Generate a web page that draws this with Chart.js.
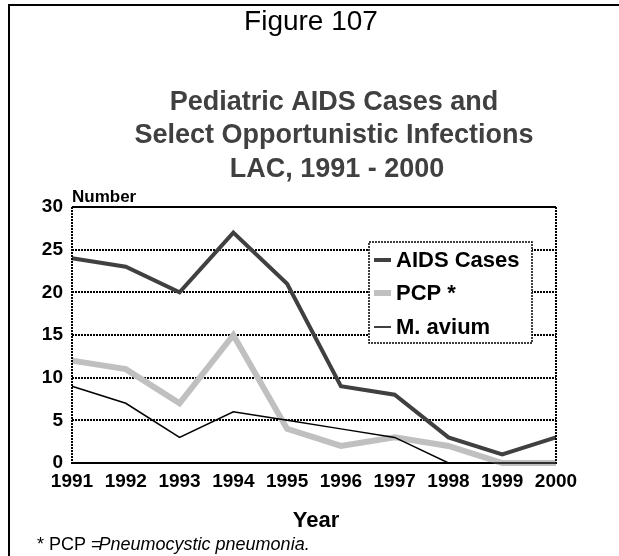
<!DOCTYPE html>
<html>
<head>
<meta charset="utf-8">
<script src="https://cdn.jsdelivr.net/npm/chart.js@4"></script>
<style>
  html, body { margin: 0; padding: 0; background: #fff; }
  canvas { display: block; }
</style>
</head>
<body>
<canvas id="chart" width="619" height="556"></canvas>
<script>
// === Data ===
const years = ["1991", "1992", "1993", "1994", "1995", "1996", "1997", "1998", "1999", "2000"];
const aidsCases = [24, 23, 20, 27, 21, 9, 8, 3, 1, 3];
const pcp = [12, 11, 7, 15, 4, 2, 3, 2, 0, 0];
const mAvium = [9, 7, 3, 6, 5, 4, 3, 0, 0, 0];

const FONT = "Arial, 'Liberation Sans', sans-serif";

// === Text, frame, borders and legend box ===
const decorPlugin = {
  id: "decor",
  afterDatasetsDraw(chart) {
    const ctx = chart.ctx;
    const area = chart.chartArea;
    ctx.save();

    // plot top (solid), left + right (dotted) borders
    ctx.strokeStyle = "#000";
    ctx.lineWidth = 2;
    ctx.beginPath();
    ctx.moveTo(area.left, area.top);
    ctx.lineTo(area.right, area.top);
    ctx.stroke();
    ctx.setLineDash([2, 1]);
    ctx.beginPath();
    ctx.moveTo(area.right, area.top);
    ctx.lineTo(area.right, area.bottom);
    ctx.moveTo(area.left, area.top);
    ctx.lineTo(area.left, area.bottom);
    ctx.stroke();

    // legend box
    const lx = 369, ly = 242, lw = 163, lh = 101;
    ctx.fillStyle = "#fff";
    ctx.fillRect(lx, ly, lw, lh);
    ctx.lineWidth = 1.5;
    ctx.strokeRect(lx, ly, lw, lh);
    ctx.setLineDash([]);

    const rows = [260, 293, 327];
    chart.data.datasets.forEach((ds, i) => {
      ctx.strokeStyle = ds.borderColor;
      ctx.lineWidth = ds.borderWidth;
      ctx.beginPath();
      ctx.moveTo(374, rows[i]);
      ctx.lineTo(391, rows[i]);
      ctx.stroke();
      ctx.fillStyle = "#000";
      ctx.font = "bold 22px " + FONT;
      ctx.textBaseline = "middle";
      ctx.textAlign = "left";
      ctx.fillText(ds.label, 396, rows[i] + 1);
    });
    ctx.restore();
  },
  afterDraw(chart) {
    const ctx = chart.ctx;
    ctx.save();

    // outer frame (left + top)
    ctx.strokeStyle = "#000";
    ctx.lineWidth = 2;
    ctx.beginPath();
    ctx.moveTo(9, 556);
    ctx.lineTo(9, 5);
    ctx.lineTo(619, 5);
    ctx.stroke();

    ctx.textBaseline = "alphabetic";
    ctx.textAlign = "center";
    ctx.fillStyle = "#000";
    ctx.font = "28px " + FONT;
    ctx.fillText("Figure 107", 311, 30);

    ctx.fillStyle = "#404040";
    ctx.font = "bold 27px " + FONT;
    ctx.fillText("Pediatric AIDS Cases and", 334, 110);
    ctx.fillText("Select Opportunistic Infections", 334, 143);
    ctx.fillText("LAC, 1991 - 2000", 337, 177);

    ctx.fillStyle = "#000";
    ctx.textAlign = "left";
    ctx.font = "bold 17px " + FONT;
    ctx.fillText("Number", 72, 202);

    ctx.textAlign = "center";
    ctx.font = "bold 22px " + FONT;
    ctx.fillText("Year", 316, 527);

    // footnote
    ctx.textAlign = "left";
    ctx.font = "18px " + FONT;
    const pre = "* PCP =";
    ctx.fillText(pre, 37, 550);
    const w = ctx.measureText(pre).width;
    ctx.font = "italic 18px " + FONT;
    ctx.fillText("Pneumocystic pneumonia.", 37 + w - 3, 550);
    ctx.restore();
  },
};

const ctx = document.getElementById("chart").getContext("2d");
new Chart(ctx, {
  type: "line",
  data: {
    labels: years,
    datasets: [
      {
        label: "AIDS Cases",
        data: aidsCases,
        borderColor: "#404040",
        borderWidth: 4,
        pointRadius: 0,
        tension: 0,
        clip: false,
        order: 1,
      },
      {
        label: "PCP *",
        data: pcp,
        borderColor: "#c0c0c0",
        borderWidth: 6,
        pointRadius: 0,
        tension: 0,
        clip: false,
        order: 2,
      },
      {
        label: "M. avium",
        data: mAvium,
        borderColor: "#000",
        borderWidth: 1.5,
        pointRadius: 0,
        tension: 0,
        clip: false,
        order: 0,
      },
    ],
  },
  options: {
    responsive: false,
    animation: false,
    events: [],
    layout: { padding: { top: 207, right: 63, left: 0, bottom: 0 } },
    plugins: {
      legend: { display: false },
      tooltip: { enabled: false },
      title: { display: false },
    },
    scales: {
      x: {
        offset: false,
        grid: { display: false, drawTicks: false },
        border: { display: true, color: "#000", width: 2 },
        ticks: {
          color: "#000",
          font: { family: FONT, size: 19, weight: "bold" },
          padding: 7,
          maxRotation: 0,
          autoSkip: false,
        },
        afterFit(scale) { scale.height = 93; },
      },
      y: {
        min: 0,
        max: 30,
        // dotted horizontal gridlines (border.dash applies to grid lines in v4)
        grid: { color: "#000", lineWidth: 2, drawTicks: false },
        border: { display: false, dash: [2, 1] },
        ticks: {
          stepSize: 5,
          color: "#000",
          font: { family: FONT, size: 19, weight: "bold" },
          padding: 9,
        },
        afterFit(scale) { scale.width = 72; },
      },
    },
  },
  plugins: [decorPlugin],
});
</script>
</body>
</html>
